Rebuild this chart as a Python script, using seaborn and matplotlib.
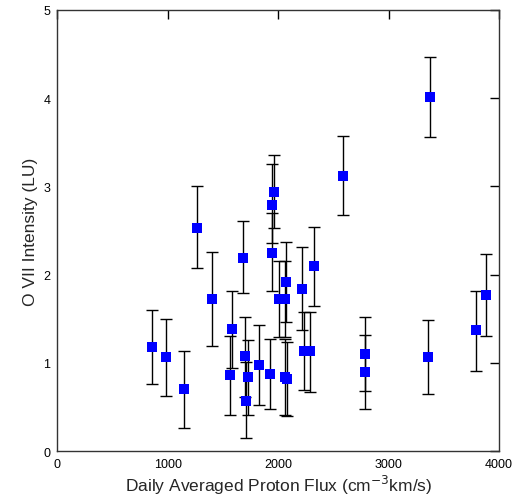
import numpy as np
import pandas as pd
import matplotlib
matplotlib.use("Agg")
import matplotlib.pyplot as plt
import seaborn as sns

# daily averaged proton flux (cm^-3 km/s) and O VII intensity (LU)
flux = [860, 985, 1143, 1266, 1405, 1564, 1582, 1678, 1703, 1725, 1712,
        1830, 1930, 1945, 1960, 1945, 2010, 2060, 2058, 2078, 2074, 2214,
        2237, 2292, 2322, 2591, 2787, 2787, 3357, 3379, 3796, 3883]
intensity = [1.18, 1.07, 0.70, 2.53, 1.72, 0.86, 1.38, 2.19, 1.08, 0.84, 0.57,
             0.98, 0.88, 2.79, 2.94, 2.25, 1.72, 1.72, 0.84, 0.82, 1.92, 1.84,
             1.13, 1.13, 2.10, 3.12, 1.10, 0.90, 1.07, 4.01, 1.37, 1.77]
# error bar ends
low = [0.76, 0.63, 0.26, 2.07, 1.19, 0.41, 0.94, 1.79, 0.62, 0.41, 0.15,
       0.52, 0.48, 2.36, 2.53, 1.81, 1.29, 1.29, 0.41, 0.40, 1.46, 1.37,
       0.69, 0.67, 1.65, 2.67, 0.68, 0.48, 0.65, 3.56, 0.91, 1.31]
high = [1.60, 1.50, 1.13, 3.00, 2.26, 1.31, 1.82, 2.61, 1.52, 1.26, 1.01,
        1.43, 1.27, 3.25, 3.35, 2.70, 2.16, 2.16, 1.27, 1.24, 2.37, 2.31,
        1.58, 1.58, 2.54, 3.57, 1.52, 1.32, 1.49, 4.47, 1.82, 2.23]

df = pd.DataFrame({"flux": flux, "intensity": intensity, "low": low, "high": high})
yerr = np.vstack([df["intensity"] - df["low"], df["high"] - df["intensity"]])

sns.set_style("white")
plt.rcParams["font.family"] = ["Liberation Sans", "DejaVu Sans"]

fig = plt.figure(figsize=(5.23, 5.02), dpi=100)
ax = fig.add_axes([0.1096, 0.099, 0.8445, 0.8797])

ax.errorbar(df["flux"], df["intensity"], yerr=yerr, fmt="none",
            ecolor="black", elinewidth=1, capsize=4, capthick=1, zorder=2)
sns.scatterplot(ax=ax, data=df, x="flux", y="intensity", marker="s",
                s=58, color="#0000ff", linewidth=0, zorder=3)

ax.set_xlim(0, 4000)
ax.set_ylim(0, 5)
ax.set_xticks([0, 1000, 2000, 3000, 4000])
ax.set_yticks([0, 1, 2, 3, 4, 5])
ax.tick_params(direction="in", length=6.5, width=1, top=True, right=True,
               labelsize=9, colors="black", pad=5)
for side in ax.spines.values():
    side.set_color("#333333")
    side.set_linewidth(1)

ax.set_xlabel("Daily Averaged Proton Flux (cm$^{-3}$km/s)", fontsize=12.5, labelpad=2)
ax.set_ylabel("O VII Intensity (LU)", fontsize=12.5, labelpad=4)

fig.savefig("out.png", dpi=100)
